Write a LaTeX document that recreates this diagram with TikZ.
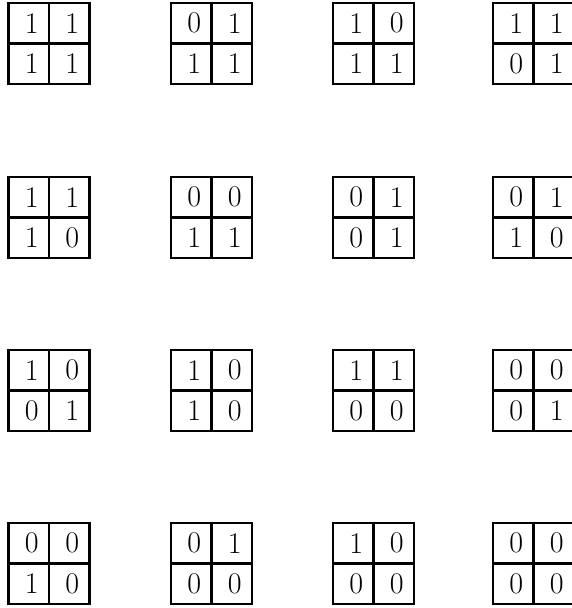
\documentclass[tikz,border=0pt]{standalone}
\begin{document}
\begin{tikzpicture}[x=0.75pt,y=-0.75pt,
  gridline/.style={line width=2.2pt},
  digit/.style={inner sep=0pt, font=\fontsize{22.5}{27}\selectfont}]
\useasboundingbox (0,0) rectangle (572,608);
\clip (0,0) rectangle (572,608);
\foreach \gx/\gy/\a/\b/\c/\d/\n in {
  8.5/3/1/1/1/1/ga, 171/3/0/1/1/1/gb, 333/3/1/0/1/1/gc, 493/3/1/1/0/1/gd,
  8.5/177/1/1/1/0/ge, 171/177/0/0/1/1/gf, 333/177/0/1/0/1/gg, 493/177/0/1/1/0/gh,
  8.5/350/1/0/0/1/gi, 171/350/1/0/1/0/gj, 333/350/1/1/0/0/gk, 493/350/0/0/0/1/gl,
  8.5/523/0/0/1/0/gm, 171/523/0/1/0/0/gn, 333/523/1/0/0/0/go, 493/523/0/0/0/0/gp}
{
  \draw[gridline] (\gx,\gy) rectangle ++(81,81);
  \draw[gridline] (\gx+40.5,\gy) -- ++(0,81);
  \draw[gridline] (\gx,\gy+40.5) -- ++(81,0);
  \node[digit] (\n-a) at (\gx+23.3,\gy+20.2) {\a};
  \node[digit] (\n-b) at (\gx+63.8,\gy+20.2) {\b};
  \node[digit] (\n-c) at (\gx+23.3,\gy+60.7) {\c};
  \node[digit] (\n-d) at (\gx+63.8,\gy+60.7) {\d};
}
\end{tikzpicture}
\end{document}
